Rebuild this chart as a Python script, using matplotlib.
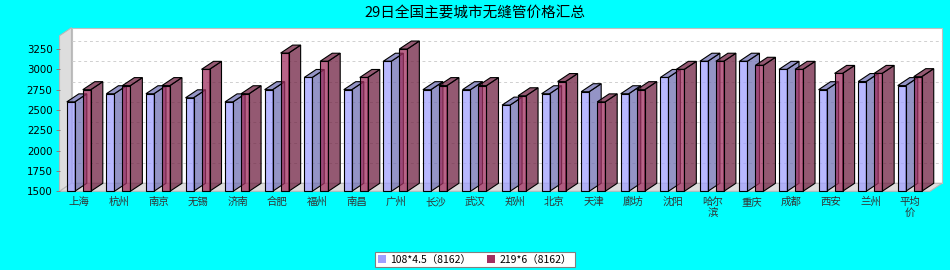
import matplotlib.pyplot as plt
from matplotlib.patches import Polygon, Rectangle, Patch

plt.rcParams['font.family'] = ['Noto Sans CJK SC', 'DejaVu Sans']

ciudades = ['上海', '杭州', '南京', '无锡', '济南', '合肥', '福州', '南昌', '广州', '长沙', '武汉',
            '郑州', '北京', '天津', '廊坊', '沈阳', '哈尔\n滨', '重庆', '成都', '西安', '兰州', '平均\n价']
precio_108 = [2600, 2700, 2700, 2650, 2600, 2750, 2900, 2750, 3100, 2750, 2750,
              2560, 2700, 2725, 2700, 2900, 3100, 3100, 3000, 2750, 2850, 2800]
precio_219 = [2750, 2800, 2800, 3000, 2700, 3200, 3100, 2900, 3250, 2800, 2800,
              2675, 2850, 2600, 2750, 3000, 3100, 3050, 3000, 2950, 2950, 2910]
serie_nombres = ['108*4.5（8162）', '219*6（8162）']
y_ticks = [1500, 1750, 2000, 2250, 2500, 2750, 3000, 3250]

n = len(ciudades)
y_min, y_max = 1500, 3414

fig = plt.figure(figsize=(9.5, 2.7), dpi=100)
fig.patch.set_facecolor('#00FFFF')

# front plane of the 3d plot, in pixels
izq, der, abajo, arriba = 59.5, 930.0, 191.3, 35.7
ax = fig.add_axes([izq / 950, (270 - abajo) / 270, (der - izq) / 950, (abajo - arriba) / 270])
ax.set_xlim(-0.5, n - 0.5)
ax.set_ylim(y_min, y_max)
ax.patch.set_alpha(0)
for s in ax.spines.values():
    s.set_visible(False)

px_x = n / (der - izq)
px_y = (y_max - y_min) / (abajo - arriba)
DX = 12 * px_x
DY = 8 * px_y

# back wall
ax.add_patch(Rectangle((-0.5 + DX, y_min + DY), n, y_max - y_min, facecolor='white',
                       edgecolor='#C0C0C0', lw=0.8, clip_on=False, zorder=0))
for v in y_ticks:
    ax.plot([-0.5 + DX, n - 0.5 + DX], [v + DY, v + DY], color='#D0D0D0', lw=0.7,
            ls=(0, (3, 3)), clip_on=False, zorder=0.5)
# left wall and floor
ax.add_patch(Polygon([(-0.5, y_min), (-0.5 + DX, y_min + DY), (-0.5 + DX, y_max + DY), (-0.5, y_max)],
                     closed=True, facecolor='#DDDDDD', edgecolor='#B8B8B8', lw=0.8, clip_on=False, zorder=1))
ax.add_patch(Polygon([(-0.5, y_min), (n - 0.5, y_min), (n - 0.5 + DX, y_min + DY), (-0.5 + DX, y_min + DY)],
                     closed=True, facecolor='#DDDDDD', edgecolor='#B8B8B8', lw=0.8, clip_on=False, zorder=1))


def oscurecer(c):
    return tuple(x * 0.7 for x in c)


def barra_3d(x0, w, v, color, z):
    osc = oscurecer(color)
    caras = [
        ([(x0 + w, y_min), (x0 + w + DX, y_min + DY), (x0 + w + DX, v + DY), (x0 + w, v)], osc),
        ([(x0, v), (x0 + DX, v + DY), (x0 + w + DX, v + DY), (x0 + w, v)], osc),
        ([(x0, y_min), (x0 + w, y_min), (x0 + w, v), (x0, v)], color),
    ]
    for pts, c in caras:
        ax.add_patch(Polygon(pts, closed=True, facecolor=c + (0.75,), edgecolor='black',
                             lw=0.8, clip_on=False, zorder=z))


azul = (160 / 255, 160 / 255, 1.0)
rojo = (160 / 255, 48 / 255, 96 / 255)
ancho = 8 * px_x
for i in range(n):
    barra_3d(i - 0.5 + 7.3 * px_x, ancho, precio_108[i], azul, 2 + i * 0.01)
    barra_3d(i - 0.5 + 23.3 * px_x, ancho, precio_219[i], rojo, 2.005 + i * 0.01)

ax.set_yticks(y_ticks)
ax.set_yticklabels([str(v) for v in y_ticks], fontsize=7.4, family='DejaVu Sans')
ax.set_xticks(range(n))
ax.set_xticklabels(ciudades, fontsize=7.5, color='#333333', linespacing=1.15)
ax.tick_params(axis='x', length=0, pad=4)
ax.tick_params(axis='y', length=3, width=0.7, color='#808080', pad=2)

fig.text(0.5, 1 - 13 / 270, '29日全国主要城市无缝管价格汇总', ha='center', va='center', fontsize=10.5)

manejadores = [Patch(facecolor=azul), Patch(facecolor=rojo)]
leg = fig.legend(manejadores, serie_nombres, loc='center', bbox_to_anchor=(475 / 950, 10.5 / 270),
                 ncol=2, fontsize=7.5, frameon=True, fancybox=False, edgecolor='#808080',
                 facecolor='white', framealpha=1,
                 handlelength=0.8, handleheight=0.8, handletextpad=0.4, columnspacing=1.5,
                 borderpad=0.25, borderaxespad=0)
leg.get_frame().set_linewidth(0.8)

fig.savefig('out.png', dpi=100, facecolor=fig.get_facecolor())
